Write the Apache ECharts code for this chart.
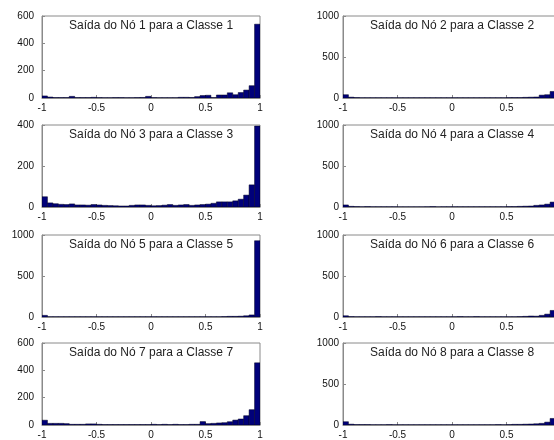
<!DOCTYPE html>
<html>
<head>
<meta charset="utf-8">
<script src="https://cdn.jsdelivr.net/npm/echarts@6/dist/echarts.min.js"></script>
<style>
html,body{margin:0;padding:0;background:#fff;overflow:hidden;width:554px;height:440px;}
#c{width:570px;height:440px;}
</style>
</head>
<body>
<div id="c"></div>
<script>
// Bin edges of the histograms (x axis: network output from -1 to 1)
const binEdges = [-1,-0.95,-0.9,-0.85,-0.8,-0.75,-0.7,-0.65,-0.6,-0.55,-0.5,-0.45,-0.4,-0.35,-0.3,-0.25,-0.2,-0.15,-0.1,-0.05,0,
  0.05,0.1,0.15,0.2,0.25,0.3,0.35,0.4,0.45,0.5,0.55,0.6,0.65,0.7,0.75,0.8,0.85,0.9,0.95,1];
const xTicks = [-1, -0.5, 0, 0.5, 1];

const titles = [
  'Saída do Nó 1 para a Classe 1', 'Saída do Nó 2 para a Classe 2',
  'Saída do Nó 3 para a Classe 3', 'Saída do Nó 4 para a Classe 4',
  'Saída do Nó 5 para a Classe 5', 'Saída do Nó 6 para a Classe 6',
  'Saída do Nó 7 para a Classe 7', 'Saída do Nó 8 para a Classe 8'
];
const yMax = [600, 1000, 400, 1000, 1000, 1000, 600, 1000];
const yStep = [200, 500, 200, 500, 500, 500, 200, 500];

const counts1 = [15,7,3,3,3,12,3,3,3,5, 3,2,2,3,3,2,2,3,4,12, 3,2,2,2,2,5,5,4,10,18, 20,3,22,22,38,24,40,58,90,540];
const counts2 = [40,10,5,3,3,3,3,3,3,3, 3,3,3,3,3,3,3,3,3,3, 3,3,3,3,3,3,3,3,3,3, 5,5,5,8,10,12,35,40,80,900];
const counts3 = [50,20,16,13,12,15,10,10,9,12, 10,8,7,6,5,5,8,10,10,8, 6,7,9,12,8,10,12,8,10,12, 14,18,25,25,25,30,38,58,108,395];
const counts4 = [25,8,5,3,5,3,3,3,3,3, 2,2,2,2,2,3,5,2,3,3, 3,3,3,3,3,3,3,3,3,3, 5,5,8,10,12,20,25,35,60,900];
const counts5 = [20,3,3,3,3,3,3,3,3,3, 3,3,3,3,3,3,3,3,3,3, 3,3,3,3,3,3,3,3,3,3, 3,3,3,5,8,8,10,15,25,930];
const counts6 = [15,5,3,3,3,3,5,3,3,3, 3,3,3,3,3,3,3,3,3,3, 3,5,3,3,5,3,3,3,3,3, 3,3,5,8,12,10,20,35,80,900];
const counts7 = [35,12,12,12,10,5,5,5,8,8, 5,3,3,3,3,3,3,3,3,3, 5,3,5,3,5,3,3,5,5,25, 10,12,15,17,24,36,44,68,112,455];
const counts8 = [40,10,5,5,5,3,3,3,5,3, 3,3,3,3,3,3,3,3,3,3, 3,3,3,3,3,3,3,3,5,3, 5,8,8,10,12,15,20,35,80,900];
const allCounts = [counts1, counts2, counts3, counts4, counts5, counts6, counts7, counts8];

const colLeft = [42, 343];
const plotW = 218;
const rowTop = [16, 125, 235, 343];
const plotH = 82;
const axisGray = '#8a8a8a';
const fontFam = '"Liberation Sans", Arial, sans-serif';

const chart = echarts.init(document.getElementById('c'), null, {renderer: 'canvas'});
const grids = [], xAxes = [], yAxes = [], series = [], titleOpts = [];

for (let i = 0; i < 8; i++) {
  const col = i % 2, row = Math.floor(i / 2);
  grids.push({left: colLeft[col], top: rowTop[row], width: plotW, height: plotH,
    show: true, borderColor: axisGray, borderWidth: 1, backgroundColor: '#fff'});
  xAxes.push({type: 'value', gridIndex: i, min: xTicks[0], max: xTicks[xTicks.length - 1], interval: 0.5,
    axisLine: {show: true, onZero: false, lineStyle: {color: axisGray}},
    axisTick: {show: true, inside: true, length: 3, lineStyle: {color: axisGray}},
    axisLabel: {fontSize: 10, color: '#111', fontFamily: fontFam, margin: 5,
      formatter: v => String(v)},
    splitLine: {show: false}});
  yAxes.push({type: 'value', gridIndex: i, min: 0, max: yMax[i], interval: yStep[i],
    axisLine: {show: true, onZero: false, lineStyle: {color: axisGray}},
    axisTick: {show: true, inside: true, length: 3, lineStyle: {color: axisGray}},
    axisLabel: {fontSize: 10, color: '#111', fontFamily: fontFam, margin: col === 0 ? 8 : 4,
      formatter: v => String(v)},
    splitLine: {show: false}});
  const data = allCounts[i].map((v, k) => [binEdges[k], binEdges[k + 1], v]);
  series.push({type: 'custom', xAxisIndex: i, yAxisIndex: i, clip: true, data: data,
    encode: {x: [0, 1], y: 2},
    renderItem: function (params, api) {
      const p0 = api.coord([api.value(0), api.value(2)]);
      const p1 = api.coord([api.value(1), 0]);
      return {type: 'rect',
        shape: {x: p0[0], y: p0[1], width: p1[0] - p0[0], height: p1[1] - p0[1]},
        style: {fill: '#00007a', stroke: '#000020', lineWidth: 0.5}};
    }});
  titleOpts.push({text: titles[i], left: colLeft[col] + plotW / 2, top: rowTop[row] + 4,
    textAlign: 'center', padding: 0,
    textStyle: {fontSize: 12, fontWeight: 'normal', color: '#222', fontFamily: fontFam}});
}

chart.setOption({
  animation: false,
  backgroundColor: '#fff',
  title: titleOpts,
  grid: grids, xAxis: xAxes, yAxis: yAxes, series: series
});
</script>
</body>
</html>
